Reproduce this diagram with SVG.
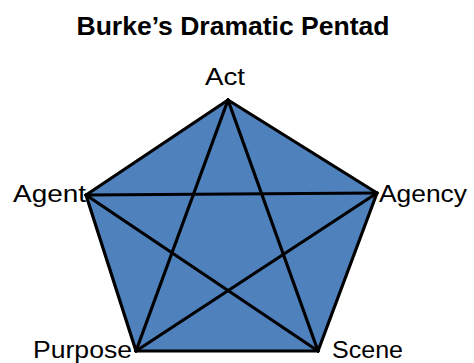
<svg xmlns="http://www.w3.org/2000/svg" width="474" height="363" viewBox="0 0 474 363">
  <style>
    .lbl { font-family: "Liberation Sans", Arial, sans-serif; font-size: 24px; fill: #000; }
    .title { font-family: "Liberation Sans", Arial, sans-serif; font-size: 26px; font-weight: bold; fill: #000; }
    .edge { stroke: #000; stroke-width: 3.2; stroke-linecap: round; fill: none; }
  </style>
  <rect width="474" height="363" fill="#fff"/>
  <text class="title" x="233" y="35" text-anchor="middle" textLength="313" lengthAdjust="spacingAndGlyphs">Burke’s Dramatic Pentad</text>
  <polygon id="pentagon" points="228,100 377,193 318,351 136,351 86,195" fill="#4F81BD"/>
  <g id="connectors">
    <line class="edge" x1="228" y1="100" x2="377" y2="193"/>
    <line class="edge" x1="377" y1="193" x2="318" y2="351"/>
    <line class="edge" x1="318" y1="351" x2="136" y2="351"/>
    <line class="edge" x1="136" y1="351" x2="86" y2="195"/>
    <line class="edge" x1="86" y1="195" x2="228" y2="100"/>
    <line class="edge" x1="228" y1="100" x2="136" y2="351"/>
    <line class="edge" x1="228" y1="100" x2="318" y2="351"/>
    <line class="edge" x1="86" y1="195" x2="377" y2="193"/>
    <line class="edge" x1="86" y1="195" x2="318" y2="351"/>
    <line class="edge" x1="377" y1="193" x2="136" y2="351"/>
  </g>
  <g id="act"><text class="lbl" x="225" y="85" text-anchor="middle" textLength="40" lengthAdjust="spacingAndGlyphs">Act</text></g>
  <g id="agent"><text class="lbl" x="13" y="202" textLength="73" lengthAdjust="spacingAndGlyphs">Agent</text></g>
  <g id="agency"><text class="lbl" x="379" y="202" textLength="88" lengthAdjust="spacingAndGlyphs">Agency</text></g>
  <g id="purpose"><text class="lbl" x="33" y="358" textLength="99" lengthAdjust="spacingAndGlyphs">Purpose</text></g>
  <g id="scene"><text class="lbl" x="332" y="358" textLength="71" lengthAdjust="spacingAndGlyphs">Scene</text></g>
</svg>
